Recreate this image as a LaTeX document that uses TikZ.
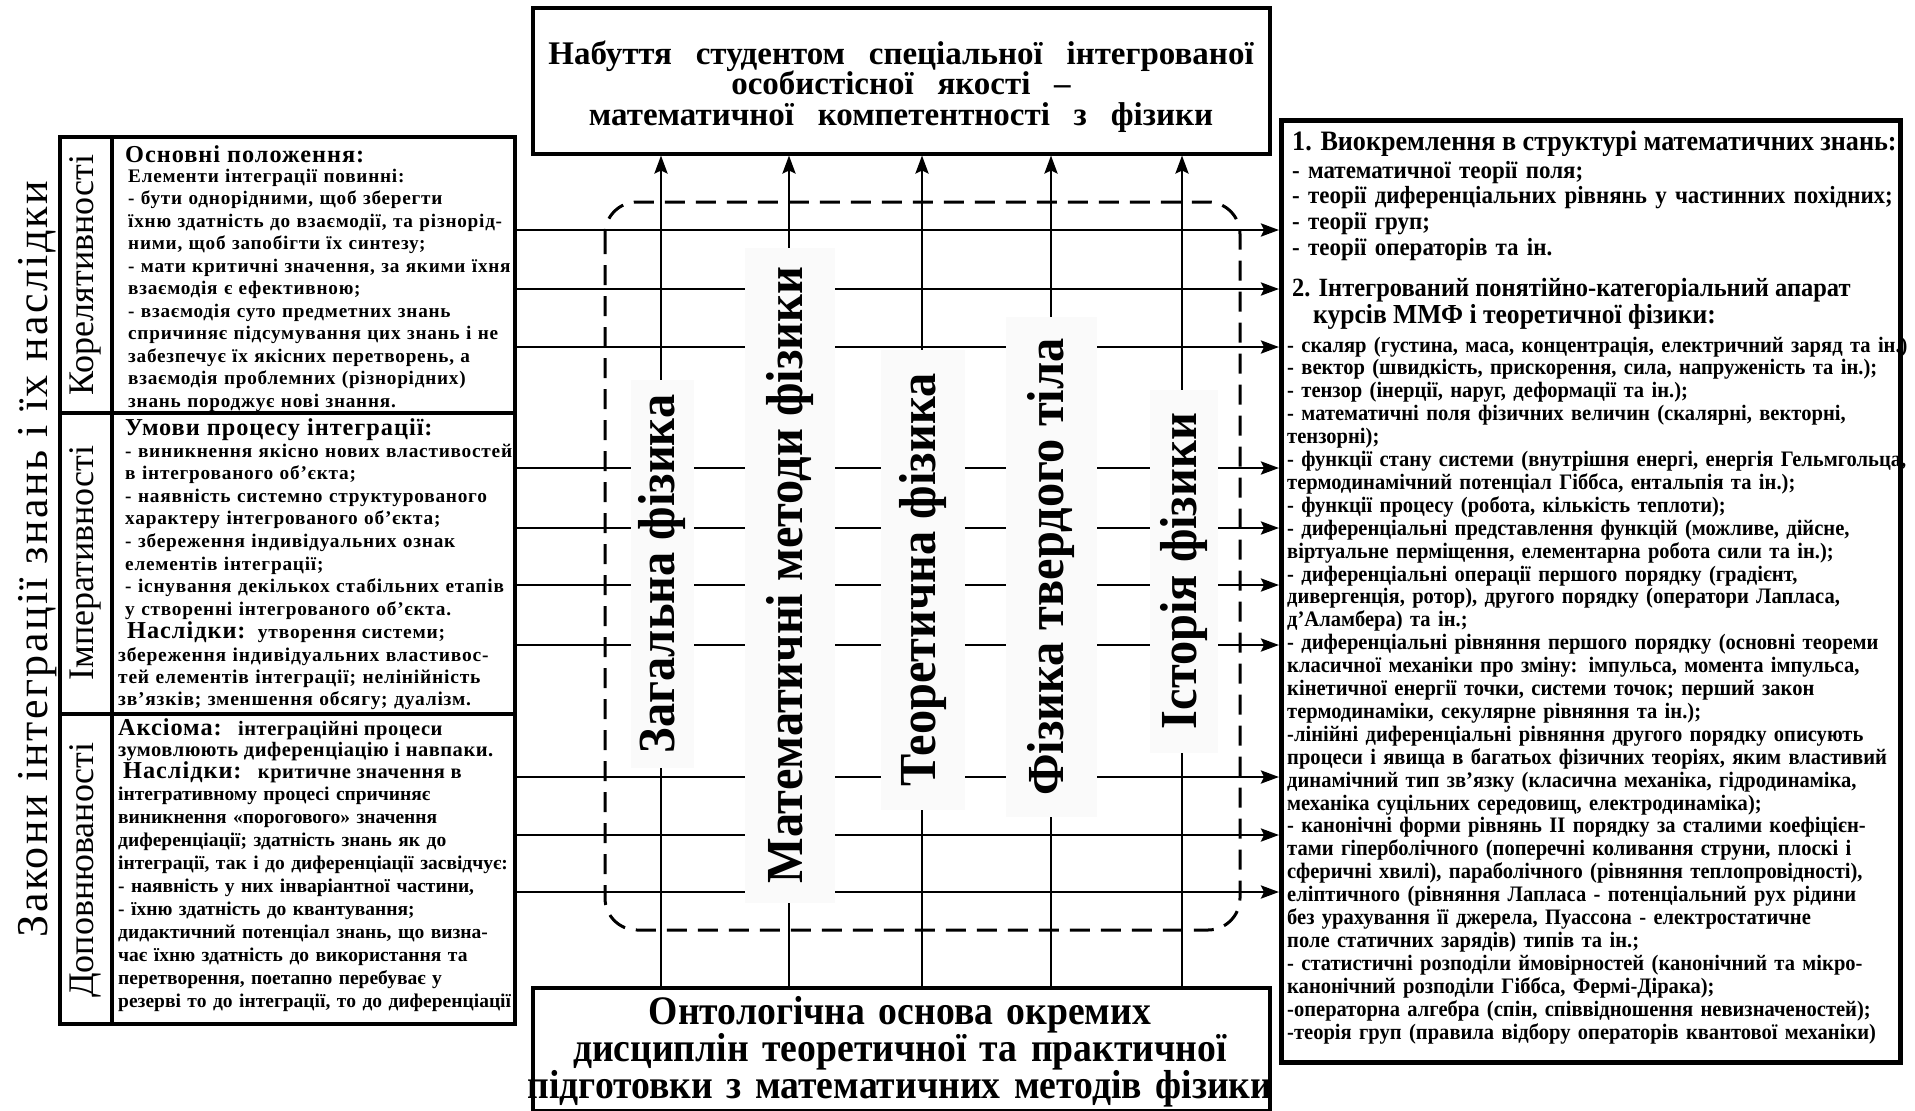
\documentclass[tikz,border=0pt]{standalone}
\usepackage{fontspec}
\setmainfont{Liberation Serif}
\newfontfamily\spacedlaw[LetterSpace=5.5]{Liberation Serif}
\newfontfamily\leftserif[LetterSpace=4]{Liberation Serif}
\newfontfamily\looseserif[LetterSpace=2.5]{Liberation Serif}
\newfontfamily\condserif[FakeStretch=0.93]{Liberation Serif}
\usetikzlibrary{arrows.meta}
% font size + fixed line pitch, never widened by \lineskip
\newcommand\fs[2]{\fontsize{#1}{#2}\selectfont\lineskiplimit=-100pt\lineskip=0pt\relax}
\begin{document}
\begin{tikzpicture}[x=1pt,y=-1pt,
  boxframe/.style={draw, line width=3.5pt, anchor=north west, inner sep=0pt},
  link/.style={line width=2.8pt, -{Stealth[length=18pt,width=13pt,inset=3pt]}},
  subject/.style={rotate=90, fill=white!98!black, inner sep=0pt, font=\condserif\bfseries\fs{52}{54}},
  lawname/.style={rotate=90, inner sep=0pt, font=\fs{36}{40}},
  headline/.style={anchor=base west, inner sep=0pt},
  para/.style={anchor=base west, inner sep=0pt, align=left, text width=#1},
]
\useasboundingbox (0,0) rectangle (1915,1111);
\fill[white] (0,0) rectangle (1915,1111);

% ---------- frames ----------
\node[boxframe, minimum width=737pt, minimum height=146pt] (goal) at (531,6) {};
\node[boxframe, minimum width=737pt, minimum height=123pt] (base) at (531,986) {};
\node[boxframe, line width=5pt, minimum width=619pt, minimum height=942pt] (apparatus) at (1279,118) {};
\node[boxframe, minimum width=455pt, minimum height=887pt] (laws) at (58,135) {};

% inner rulings of the laws table
\coordinate (colsep) at (112,0);
\coordinate (rowA) at (0,413);
\coordinate (rowB) at (0,714);
\draw[line width=3.5pt] (laws.north -| colsep) -- (laws.south -| colsep);
\draw[line width=3.5pt] (laws.west |- rowA) -- (laws.east |- rowA);
\draw[line width=3.5pt] (laws.west |- rowB) -- (laws.east |- rowB);

% ---------- connectors ----------
\foreach \y [count=\i] in {230,289,347,468,528,585,645,777,835,892}{
  \coordinate (h\i) at (0,\y);
  \draw[link] (laws.east |- h\i) -- (apparatus.west |- h\i);
}
\foreach \x [count=\i] in {661,789,922,1051,1182}{
  \coordinate (v\i) at (\x,0);
  \draw[link] (base.north -| v\i) -- (goal.south -| v\i);
}
% dashed frame round the disciplines
\draw[line width=3pt, dash pattern=on 20pt off 11pt, rounded corners=32pt] (605,202) rectangle (1240,930);

% ---------- disciplines ----------
\node[subject, minimum width=388pt, minimum height=63pt] (general) at (662,574) {Загальна фізика};
\node[subject, minimum width=655pt, minimum height=90pt] (mathmeth) at (790,575) {Математичні методи фізики};
\node[subject, minimum width=460pt, minimum height=84pt] (theory) at (923,580) {Теоретична фізика};
\node[subject, minimum width=500pt, minimum height=91pt] (solid) at (1051,567) {Фізика твердого тіла};
\node[subject, minimum width=363pt, minimum height=68pt] (history) at (1184,571) {Історія фізики};

% ---------- goal and foundation ----------
\node[anchor=base, inner sep=0pt, align=center, text width=780pt, font=\bfseries\fs{33}{30.5}] (goaltext) at (901,64)
  {\spaceskip=0.72em\relax Набуття студентом спеціальної інтегрованої\\особистісної якості –\\математичної компетентності з фізики};
\node[anchor=base, inner sep=0pt, align=center, text width=800pt, font=\condserif\bfseries\fs{40.5}{37}] (basetext) at (900,1024)
  {Онтологічна основа окремих\\дисциплін теоретичної та практичної\\підготовки з математичних методів фізики};

% ---------- laws ----------
\node[rotate=90, inner sep=0pt, font=\spacedlaw\fs{44}{46}] (lawtitle) at (38,559) {Закони інтеграції знань і їх наслідки};
\node[lawname] (korel) at (85,275) {Корелятивності};
\node[lawname] (imper) at (85,563) {Імперативності};
\node[lawname] (dopov) at (85,870) {Доповнюваності};

\node[headline, font=\leftserif\bfseries\fs{24.3}{24}] (hA) at (125,162) {Основні положення:};
\node[para=420pt, font=\leftserif\bfseries\fs{19.2}{22.5}] (bA) at (128,182)
  {Елементи інтеграції повинні:\\
   - бути однорідними, щоб зберегти\\
   їхню здатність до взаємодії, та різнорід-\\
   ними, щоб запобігти їх синтезу;\\
   - мати критичні значення, за якими їхня\\
   взаємодія є ефективною;\\
   - взаємодія суто предметних знань\\
   спричиняє підсумування цих знань і не\\
   забезпечує їх якісних перетворень, а\\
   взаємодія проблемних (різнорідних)\\
   знань породжує нові знання.};

\node[headline, font=\leftserif\bfseries\fs{24.3}{24}] (hB) at (125,435) {Умови процесу інтеграції:};
\node[para=420pt, font=\leftserif\bfseries\fs{19.3}{22.6}] (bB) at (125,457)
  {- виникнення якісно нових властивостей\\
   в інтегрованого об’єкта;\\
   - наявність системно структурованого\\
   характеру інтегрованого об’єкта;\\
   - збереження індивідуальних ознак\\
   елементів інтеграції;\\
   - існування декількох стабільних етапів\\
   у створенні інтегрованого об’єкта.};
\node[headline, font=\leftserif\bfseries\fs{24.3}{24}] (hC) at (127,638) {Наслідки:};
\node[headline, font=\leftserif\bfseries\fs{19.5}{22}] (hCt) at ([xshift=12pt]hC.base east) {утворення системи;};
\node[para=420pt, font=\leftserif\bfseries\fs{19.5}{22}] (bC) at (118,661)
  {збереження індивідуальних властивос-\\
   тей елементів інтеграції; нелінійність\\
   зв’язків; зменшення обсягу; дуалізм.};

\node[headline, font=\leftserif\bfseries\fs{24.3}{24}] (hD) at (118,735) {Аксіома:};
\node[headline, font=\looseserif\bfseries\fs{20.5}{22}] (hDt) at ([xshift=16pt]hD.base east) {інтеграційні процеси};
\node[headline, font=\looseserif\bfseries\fs{20.5}{22}] (bD) at (118,756) {зумовлюють диференціацію і навпаки.};
\node[headline, font=\leftserif\bfseries\fs{24.3}{24}] (hE) at (123,778) {Наслідки:};
\node[headline, font=\looseserif\bfseries\fs{20.5}{22}] (hEt) at ([xshift=16pt]hE.base east) {критичне значення в};
\node[para=440pt, font=\bfseries\fs{19.5}{23}] (bE) at (118,800)
  {інтегративному процесі спричиняє\\
   виникнення «порогового» значення\\
   диференціації; здатність знань як до\\
   інтеграції, так і до диференціації засвідчує:\\
   - наявність у них інваріантної частини,\\
   - їхню здатність до квантування;\\
   дидактичний потенціал знань, що визна-\\
   чає їхню здатність до використання та\\
   перетворення, поетапно перебуває у\\
   резерві то до інтеграції, то до диференціації};

% ---------- mathematical apparatus ----------
\node[headline, font=\condserif\bfseries\fs{28.1}{28}] (rH1) at (1292,150) {1. Виокремлення в структурі математичних знань:};
\node[para=700pt, font=\condserif\bfseries\fs{24.7}{25.7}] (rA) at (1292,178)
  {- математичної теорії поля;\\
   - теорії диференціальних рівнянь у частинних похідних;\\
   - теорії груп;\\
   - теорії операторів та ін.};
\node[headline, font=\condserif\bfseries\fs{26.3}{27}] (rH2) at (1292,296) {2. Інтегрований понятійно-категоріальний апарат};
\node[headline, font=\condserif\bfseries\fs{27.5}{27}] (rH3) at (1313,323) {курсів ММФ і теоретичної фізики:};
\node[para=700pt, font=\condserif\bfseries\fs{22.1}{22.9}] (rB) at (1287,352)
  {- скаляр (густина, маса, концентрація, електричний заряд та ін.)\\
   - вектор (швидкість, прискорення, сила, напруженість та ін.);\\
   - тензор (інерції, наруг, деформації та ін.);\\
   - математичні поля фізичних величин (скалярні, векторні,\\
   тензорні);\\
   - функції стану системи (внутрішня енергі, енергія Гельмгольца,\\
   термодинамічний потенціал Гіббса, ентальпія та ін.);\\
   - функції процесу (робота, кількість теплоти);\\
   - диференціальні представлення функцій (можливе, дійсне,\\
   віртуальне перміщення, елементарна робота сили та ін.);\\
   - диференціальні операції першого порядку (градієнт,\\
   дивергенція, ротор), другого порядку (оператори Лапласа,\\
   д’Аламбера) та ін.;\\
   - диференціальні рівняння першого порядку (основні теореми\\
   класичної механіки про зміну: імпульса, момента імпульса,\\
   кінетичної енергії точки, системи точок; перший закон\\
   термодинаміки, секулярне рівняння та ін.);\\
   -лінійні диференціальні рівняння другого порядку описують\\
   процеси і явища в багатьох фізичних теоріях, яким властивий\\
   динамічний тип зв’язку (класична механіка, гідродинаміка,\\
   механіка суцільних середовищ, електродинаміка);\\
   - канонічні форми рівнянь II порядку за сталими коефіцієн-\\
   тами гіперболічного (поперечні коливання струни, плоскі і\\
   сферичні хвилі), параболічного (рівняння теплопровідності),\\
   еліптичного (рівняння Лапласа - потенціальний рух рідини\\
   без урахування її джерела, Пуассона - електростатичне\\
   поле статичних зарядів) типів та ін.;\\
   - статистичні розподіли ймовірностей (канонічний та мікро-\\
   канонічний розподіли Гіббса, Фермі-Дірака);\\
   -операторна алгебра (спін, співвідношення невизначеностей);\\
   -теорія груп (правила відбору операторів квантової механіки)};
\end{tikzpicture}
\end{document}
